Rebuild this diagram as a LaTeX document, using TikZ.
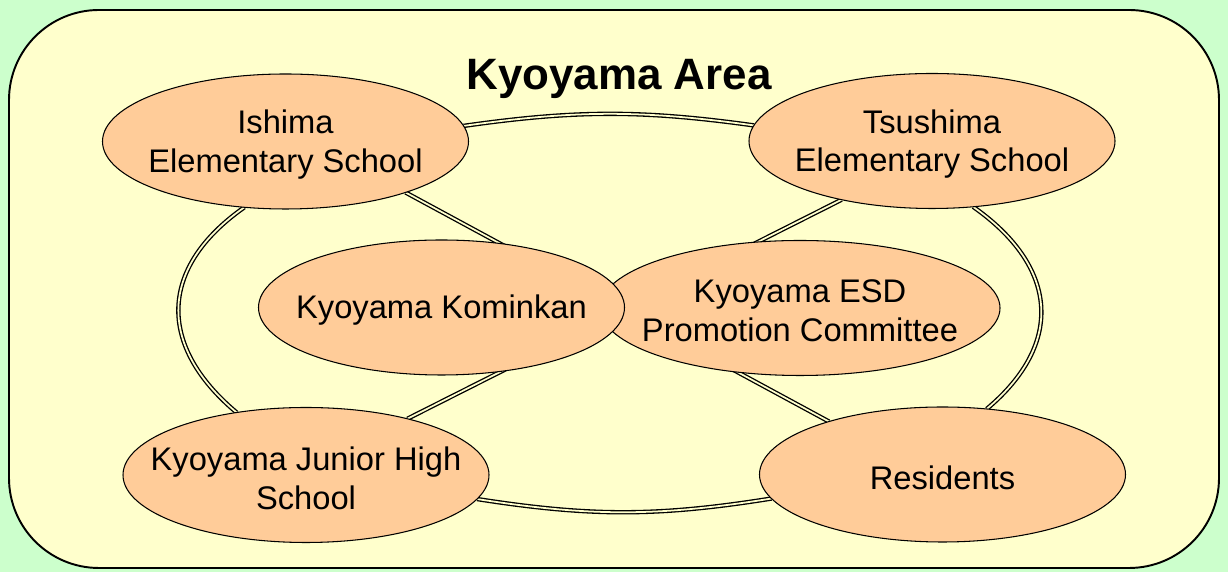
\documentclass[tikz,border=0pt]{standalone}
\usepackage{fontspec}
\setmainfont{Liberation Sans}
\usepackage{tikz}
\usepackage{xcolor}
\usetikzlibrary{shapes.geometric}
\pgfdeclarelayer{frame}
\pgfdeclarelayer{links}
\pgfsetlayers{frame,links,main}
\definecolor{areagreen}{RGB}{204, 255, 204}
\definecolor{areayellow}{RGB}{255, 255, 204}
\definecolor{orgorange}{RGB}{255, 204, 153}
\tikzstyle{orgface} = [
	ellipse,
	draw=black,
	line width=0.6pt,
	fill=orgorange,
	inner sep=0pt,
	outer sep=0pt,
	minimum width=7.32cm,
	minimum height=2.7cm
]
\tikzstyle{orgtext} = [
	align=center,
	yshift=-0.06cm,
	font=\fontsize{18.6}{22.1}\selectfont
]
\tikzstyle{linkline} = [
	draw=black,
	line width=0.75pt,
	double=areayellow,
	double distance=1.0pt
]

\begin{document}
\begin{tikzpicture}
	\useasboundingbox (0,0) rectangle (24.56,11.44);
	
	%
	% Area frame
	\begin{pgfonlayer}{frame}
		\fill[areagreen] (0,0) rectangle (24.56,11.44);
		\draw[line width=1.1pt, fill=areayellow, rounded corners=1.8cm] (0.18,0.08) rectangle (24.38,11.24);
	\end{pgfonlayer}
	\node[font=\bfseries\fontsize{25}{30}\selectfont, anchor=base] (title) at (12.38,9.64) {Kyoyama Area};
	
	% Elementary schools
	\node[orgface, label={[orgtext]center:Ishima\\Elementary School}] (IES) at (5.71,8.61) {};
	\node[orgface, label={[orgtext]center:Tsushima\\Elementary School}] (TES) at (18.64,8.62) {};
	
	% Middle row
	\node[orgface, minimum width=8cm, label={[orgtext]center:Kyoyama ESD\\Promotion Committee}] (ESD) at (16.00,5.28) {};
	\node[orgface, label={[orgtext]center:Kyoyama Kominkan}] (KK) at (8.83,5.29) {};
	
	% Bottom row
	\node[orgface, label={[orgtext]center:Kyoyama Junior High\\School}] (KJH) at (6.12,1.94) {};
	\node[orgface, label={[orgtext]center:Residents}] (RES) at (18.85,1.95) {};
	
	% Links
	\begin{pgfonlayer}{links}
		\draw[linkline] (IES.5) to[bend left=8] (TES.175);
		\draw[linkline] (KJH.-8) to[bend right=9] (RES.-172);
		\draw[linkline] (IES.-122) to[out=-145, in=140, looseness=1.3] (KJH.138);
		\draw[linkline] (TES.-58) to[out=-35, in=40, looseness=1.3] (RES.56);
		\draw[linkline] (IES.-23) -- (RES.155);
		\draw[linkline] (TES.-147) -- (KJH.29);
	\end{pgfonlayer}
	
\end{tikzpicture}
\end{document}
